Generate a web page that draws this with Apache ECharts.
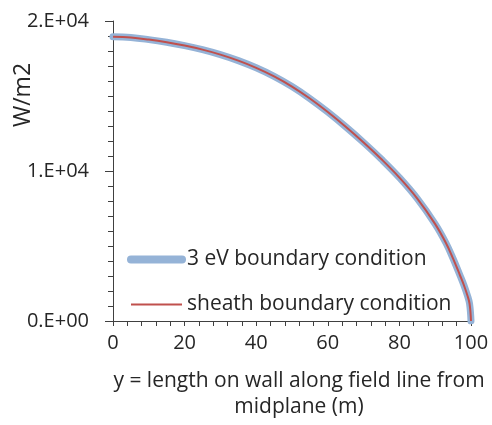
<!DOCTYPE html>
<html>
<head>
<meta charset="utf-8">
<script src="https://cdn.jsdelivr.net/npm/echarts@6/dist/echarts.min.js"></script>
<style>html,body{margin:0;padding:0;background:#fff}#c{width:492px;height:425px}</style>
</head>
<body>
<div id="c"></div>
<script>
const lengthX = [0,5,10,15,20,25,30,35,40,45,50,55,60,65,70,75,80,85,90,93,95,97,98,99,99.6,100];
const flux3eV = [18950,18900,18760,18580,18360,18090,17760,17360,16880,16310,15630,14830,13930,12950,11900,10780,9560,8160,6460,5200,4160,3000,2400,1700,1150,0];
const fluxSheath = [18950,18900,18760,18580,18360,18090,17760,17360,16880,16310,15630,14830,13930,12950,11900,10780,9560,8160,6460,5200,4160,3000,2400,1700,1150,0];
const seriesNames = ['3 eV boundary condition','sheath boundary condition'];
const yTickLabels = {0:'0.E+00',10000:'1.E+04',20000:'2.E+04'};

const font = 'Open Sans';
const txt = '#262626';
const ax = '#404040';
const chart = echarts.init(document.getElementById('c'));
chart.setOption({
  animation:false,
  textStyle:{fontFamily:font},
  grid:{left:113,right:21,top:21,bottom:102,containLabel:false},
  legend:{
    orient:'vertical', left:127, top:249, padding:0,
    itemWidth:51, itemHeight:14, itemGap:24,
    textStyle:{fontFamily:font,fontSize:21,color:txt},
    data:[
      {name:seriesNames[0], lineStyle:{width:8,cap:'round',color:'#95b3d7'}, itemStyle:{opacity:0}},
      {name:seriesNames[1], lineStyle:{width:2,color:'#c0504d'}, itemStyle:{opacity:0}}
    ]
  },
  xAxis:{
    type:'value', min:0, max:100, interval:20,
    name:'y = length on wall along field line from\nmidplane (m)',
    nameLocation:'middle', nameGap:47,
    nameTextStyle:{fontFamily:font,fontSize:21,color:txt,lineHeight:26,verticalAlign:'top',padding:[0,0,0,14]},
    axisLine:{show:true,lineStyle:{color:ax,width:1}},
    axisTick:{show:true,length:5,lineStyle:{color:ax}},
    minorTick:{show:true,splitNumber:5,length:5,lineStyle:{color:ax}},
    splitLine:{show:false},
    axisLabel:{fontFamily:font,fontSize:20,color:txt,margin:12}
  },
  yAxis:{
    type:'value', min:0, max:20000, interval:10000,
    axisLine:{show:true,lineStyle:{color:ax,width:1}},
    axisTick:{show:true,length:8,lineStyle:{color:ax}},
    minorTick:{show:true,splitNumber:10,length:5,lineStyle:{color:ax}},
    splitLine:{show:false},
    axisLabel:{fontFamily:font,fontSize:20,color:txt,margin:24,formatter:v=>yTickLabels[v]}
  },
  graphic:[{
    type:'text', x:23, y:95, rotation:Math.PI/2,
    style:{text:'W/m2',font:'23px "Open Sans"',fill:txt,align:'center',verticalAlign:'middle'}
  }],
  series:[
    {name:seriesNames[0],type:'line',symbol:'none',smooth:0.4,
     data:lengthX.map((x,i)=>[x,flux3eV[i]]),
     lineStyle:{width:7,color:'#95b3d7',cap:'round'},itemStyle:{color:'#95b3d7'}},
    {name:seriesNames[1],type:'line',symbol:'none',smooth:0.4,
     data:lengthX.map((x,i)=>[x,fluxSheath[i]]),
     lineStyle:{width:2,color:'#c0504d'},itemStyle:{color:'#c0504d'}}
  ]
});
</script>
</body>
</html>
